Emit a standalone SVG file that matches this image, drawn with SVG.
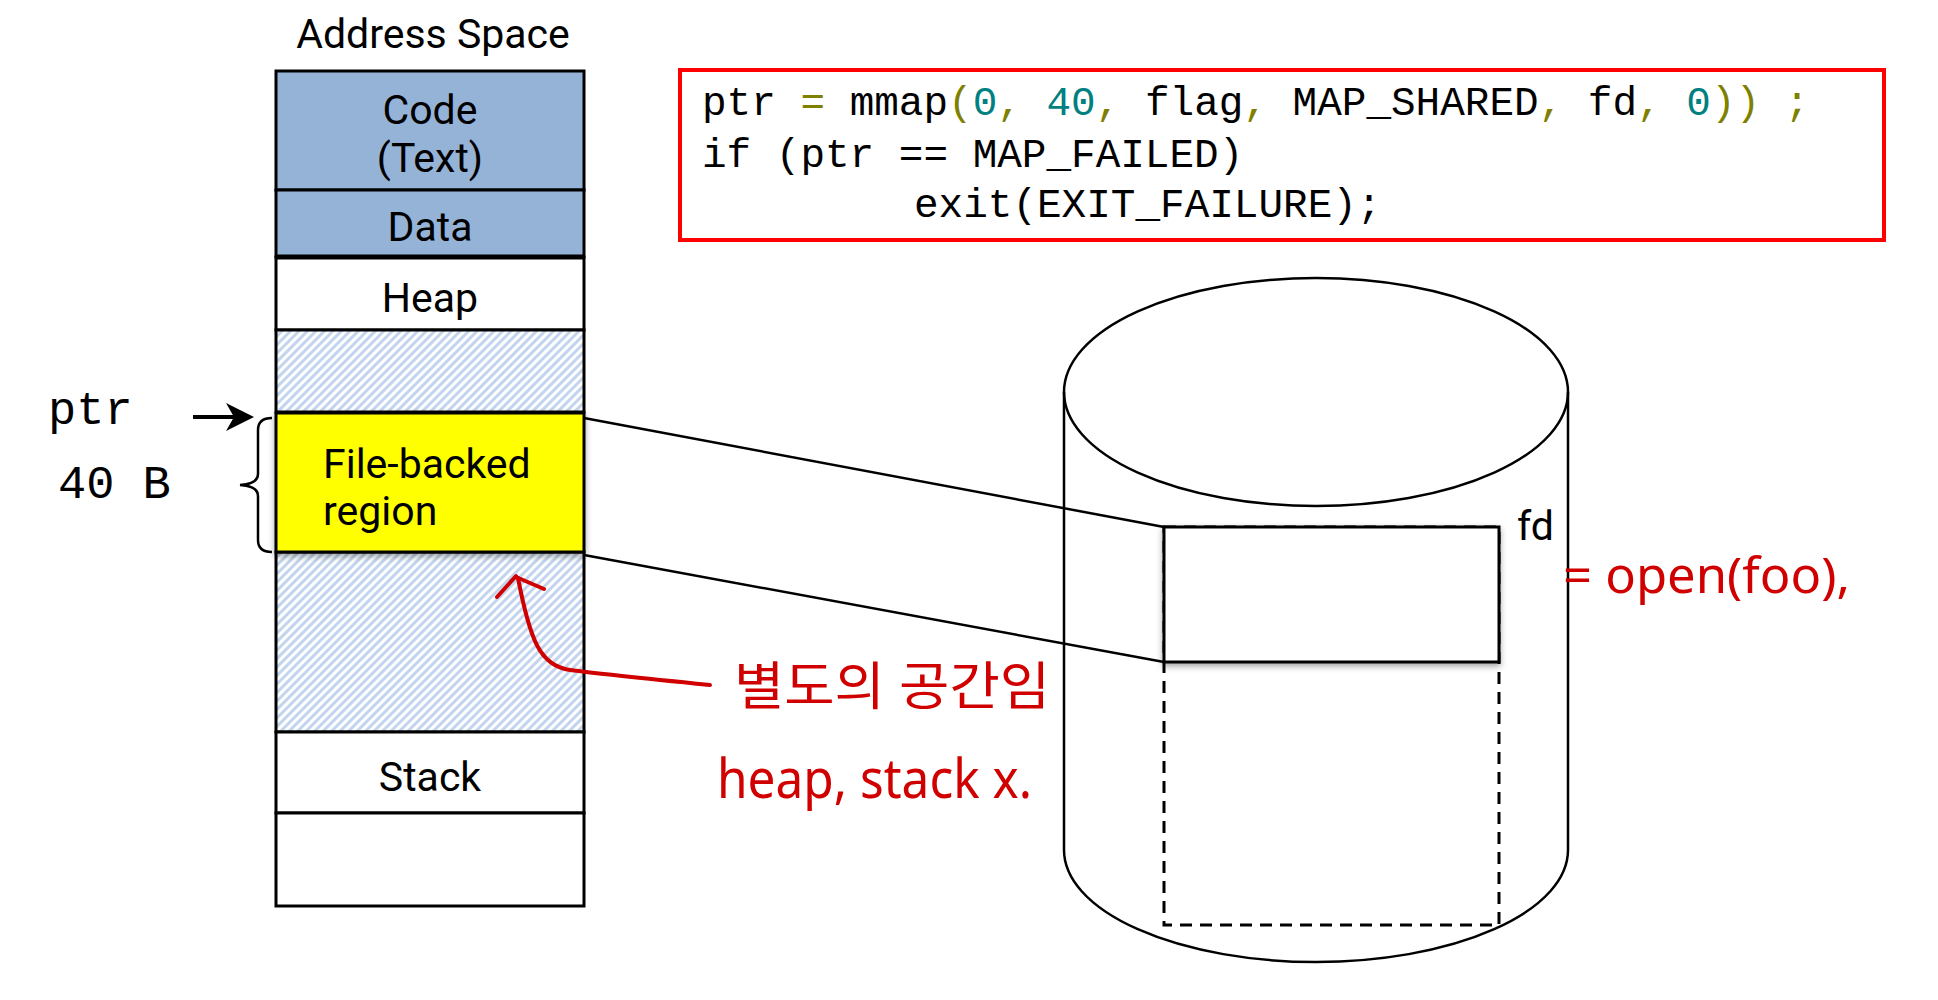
<svg xmlns="http://www.w3.org/2000/svg" width="1938" height="1000" viewBox="0 0 1938 1000">
<defs>
  <pattern id="hatch" patternUnits="userSpaceOnUse" width="6" height="6" patternTransform="rotate(45)">
    <rect width="6" height="6" fill="#ffffff"/>
    <line x1="1.5" y1="0" x2="1.5" y2="6" stroke="#c3d5ee" stroke-width="3"/>
  </pattern>
  <filter id="shadow" x="-10%" y="-20%" width="120%" height="150%">
    <feDropShadow dx="0" dy="3" stdDeviation="3" flood-color="#000" flood-opacity="0.35"/>
  </filter>
</defs>
<style>
  .seg { stroke: #000; stroke-width: 3; }
  .blue { fill: #95b3d7; }
  .white { fill: #ffffff; }
  .lbl { font-family: Roboto, "Noto Sans", sans-serif; font-size: 41px; fill: #000; }
  .mono { font-family: "Liberation Mono", "DejaVu Sans Mono", monospace; fill: #000; white-space: pre; }
  .ol { fill: #808000; }
  .tl { fill: #008080; }
  .hand { font-family: "Noto Sans", "Noto Sans CJK KR", sans-serif; fill: #d00000; }
  .line { stroke: #000; stroke-width: 2.5; fill: none; }
  .red { stroke: #d00000; stroke-width: 4; fill: none; stroke-linecap: round; }
</style>
<rect width="1938" height="1000" fill="#ffffff"/>

<g id="title">
  <text class="lbl" x="433" y="48" text-anchor="middle" font-size="39">Address Space</text>
</g>

<g id="code-seg">
  <rect class="seg blue" x="276" y="71" width="308" height="119"/>
  <text class="lbl" x="430" y="124" text-anchor="middle">Code</text>
  <text class="lbl" x="430" y="172" text-anchor="middle">(Text)</text>
</g>
<g id="data-seg">
  <rect class="seg blue" x="276" y="190" width="308" height="67"/>
  <text class="lbl" x="430" y="241" text-anchor="middle">Data</text>
</g>
<g id="heap-seg">
  <rect class="seg white" x="276" y="257" width="308" height="73"/>
  <line x1="276" y1="257" x2="584" y2="257" stroke="#000" stroke-width="5"/>
  <text class="lbl" x="430" y="312" text-anchor="middle">Heap</text>
</g>
<g id="free-upper">
  <rect class="seg" x="276" y="330" width="308" height="82" fill="url(#hatch)"/>
</g>
<g id="free-lower">
  <rect class="seg" x="276" y="552" width="308" height="180" fill="url(#hatch)"/>
</g>
<g id="file-backed">
  <rect class="seg" x="276" y="413" width="308" height="139" fill="#ffff00" filter="url(#shadow)"/>
  <text class="lbl" x="323" y="478">File-backed</text>
  <text class="lbl" x="323" y="525">region</text>
</g>
<g id="stack-seg">
  <rect class="seg white" x="276" y="732" width="308" height="81"/>
  <text class="lbl" x="430" y="791" text-anchor="middle">Stack</text>
</g>
<g id="bottom-seg">
  <rect class="seg white" x="276" y="813" width="308" height="93"/>
</g>

<g id="ptr-label">
  <text class="mono" x="48" y="424" font-size="47">ptr</text>
  <line x1="193" y1="417" x2="234" y2="417" stroke="#000" stroke-width="4"/>
  <polygon points="254,417 226,403 234,417 226,431" fill="#000"/>
</g>
<g id="size-label">
  <text class="mono" x="58" y="498" font-size="47">40 B</text>
  <path class="line" d="M 272 418 Q 258 418 258 430 L 258 474 Q 258 484 240 485 Q 258 486 258 496 L 258 540 Q 258 552 272 552"/>
</g>

<g id="code-box">
  <rect x="680" y="70" width="1204" height="170" fill="#ffffff" stroke="#ff0000" stroke-width="4"/>
  <text class="mono" x="702" y="115" font-size="41">ptr <tspan class="ol">=</tspan> mmap<tspan class="ol">(</tspan><tspan class="tl">0</tspan><tspan class="ol">,</tspan> <tspan class="tl">40</tspan><tspan class="ol">,</tspan> flag<tspan class="ol">,</tspan> MAP_SHARED<tspan class="ol">,</tspan> fd<tspan class="ol">,</tspan> <tspan class="tl">0</tspan><tspan class="ol">))</tspan> <tspan class="ol">;</tspan></text>
  <text class="mono" x="702" y="167" font-size="41">if (ptr == MAP_FAILED)</text>
  <text class="mono" x="914" y="217" font-size="41">exit(EXIT_FAILURE);</text>
</g>

<g id="disk">
  <path class="line" fill="#ffffff" d="M 1064 392 L 1064 850 A 252 112 0 0 0 1568 850 L 1568 392"/>
  <ellipse class="line" cx="1316" cy="392" rx="252" ry="114" fill="#ffffff"/>
</g>
<g id="file-extent">
  <rect x="1164" y="527" width="335" height="398" fill="none" stroke="#000" stroke-width="3" stroke-dasharray="12 8"/>
</g>
<g id="mapped-part">
  <rect x="1164" y="527" width="335" height="135" fill="#ffffff" stroke="#000" stroke-width="3" filter="url(#shadow)"/>
  <text class="lbl" x="1517" y="540" font-size="37">fd</text>
</g>

<g id="connectors">
  <line class="line" x1="584" y1="418" x2="1164" y2="527"/>
  <line class="line" x1="584" y1="555" x2="1164" y2="662"/>
</g>

<g id="annotations">
  <path class="red" d="M 710 685 C 660 680, 600 674, 570 670 C 540 666, 530 640, 518 578"/>
  <path class="red" d="M 497 597 L 516 576 M 516 577 L 544 589"/>
  <text class="hand" x="734" y="705" font-size="52" textLength="316" lengthAdjust="spacingAndGlyphs">별도의 공간임</text>
  <text class="hand" x="717" y="798" font-size="54" textLength="315" lengthAdjust="spacingAndGlyphs">heap, stack x.</text>
  <text class="hand" x="1563" y="593" font-size="50" textLength="287" lengthAdjust="spacingAndGlyphs">= open(foo),</text>
</g>
</svg>
